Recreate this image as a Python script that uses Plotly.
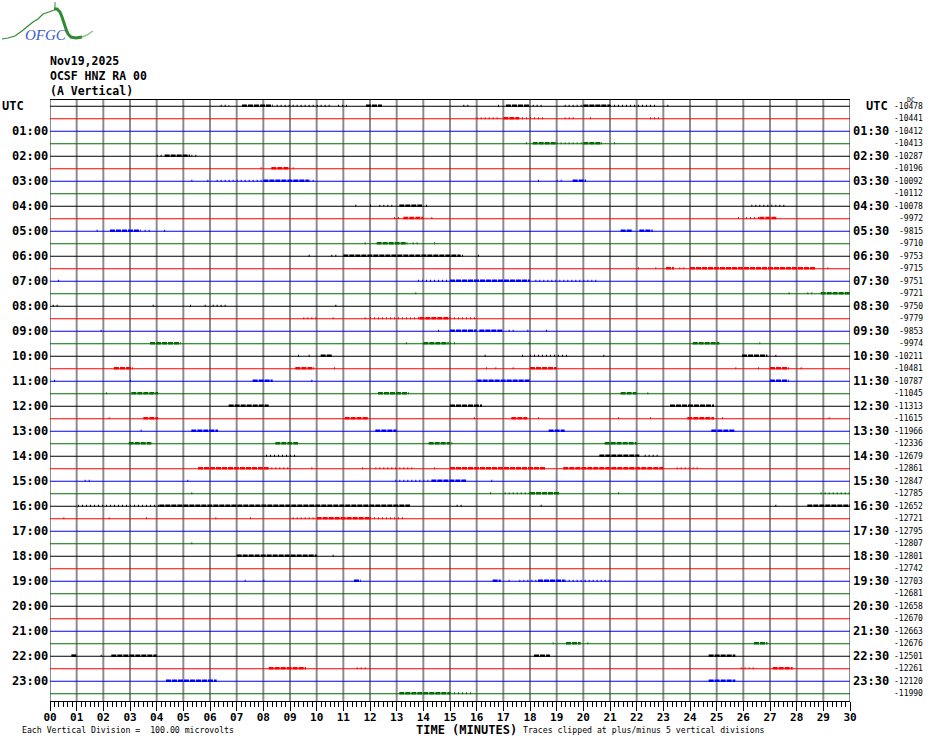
import plotly.graph_objects as go

# ---------------- data ----------------
DATE_LABEL = "Nov19,2025"
STATION_LABEL = "OCSF HNZ RA 00"
COMPONENT_LABEL = "(A Vertical)"

MINUTE_TICKS = list(range(0, 31))
MINUTE_LABELS = [f"{m:02d}" for m in MINUTE_TICKS]

HOUR_LEFT = ["UTC"] + [f"{h:02d}:00" for h in range(1, 24)]
HOUR_RIGHT = ["UTC"] + [f"{h:02d}:30" for h in range(1, 24)]

DC_OFFSETS = [-10478, -10441, -10412, -10413, -10287, -10196, -10092, -10112,
              -10078, -9972, -9815, -9710, -9753, -9715, -9751, -9721,
              -9750, -9779, -9853, -9974, -10211, -10481, -10787, -11045,
              -11313, -11615, -11966, -12336, -12679, -12861, -12847, -12785,
              -12652, -12721, -12795, -12807, -12801, -12742, -12703, -12681,
              -12658, -12670, -12663, -12676, -12501, -12261, -12120, -11990]

TRACE_COLORS = ["#000000", "#ff0000", "#0000ff", "#006e00"]

# bursts of seismic activity: (line index, start minute, end minute, kind d=dense s=sparse)
BURSTS = [
    (0, 6.4, 6.72, "s"), (0, 7.2, 8.35, "d"), (0, 8.5, 10.6, "s"), (0, 10.8, 11.2, "s"),
    (0, 11.85, 12.45, "d"), (0, 15.5, 15.8, "s"), (0, 16.8, 16.85, "s"), (0, 17.1, 18.0, "d"),
    (0, 18.1, 18.5, "s"), (0, 19.3, 20.0, "s"), (0, 20.0, 21.0, "d"), (0, 21.0, 22.8, "s"),
    (0, 23.15, 23.25, "s"),
    (1, 16.0, 16.9, "s"), (1, 17.0, 17.6, "d"), (1, 17.7, 18.5, "s"), (1, 19.3, 19.7, "s"),
    (1, 20.25, 20.35, "s"), (1, 22.5, 22.9, "s"),
    (3, 17.85, 17.95, "s"), (3, 18.1, 19.0, "d"), (3, 19.0, 20.0, "s"), (3, 20.0, 20.7, "d"),
    (3, 21.15, 21.25, "s"),
    (4, 4.0, 4.3, "s"), (4, 4.3, 5.25, "d"), (4, 5.3, 5.5, "s"),
    (5, 7.9, 7.95, "s"), (5, 8.3, 9.0, "d"), (5, 9.1, 9.2, "s"),
    (6, 5.3, 5.4, "s"), (6, 5.9, 6.0, "s"), (6, 6.25, 8.0, "s"), (6, 8.0, 9.7, "d"),
    (6, 9.7, 10.0, "s"), (6, 18.3, 18.35, "s"), (6, 19.0, 19.3, "s"), (6, 19.6, 20.1, "d"),
    (8, 11.45, 11.5, "s"), (8, 12.0, 12.05, "s"), (8, 12.35, 12.9, "s"), (8, 13.1, 13.95, "d"),
    (8, 14.1, 14.15, "s"), (8, 26.3, 27.6, "s"),
    (9, 12.9, 13.1, "s"), (9, 13.25, 14.0, "d"), (9, 14.3, 14.35, "s"), (9, 25.8, 25.85, "s"),
    (9, 26.1, 26.6, "s"), (9, 26.6, 27.25, "d"),
    (10, 1.75, 1.9, "s"), (10, 2.25, 3.4, "d"), (10, 3.55, 3.75, "s"), (10, 4.28, 4.32, "s"),
    (10, 21.4, 21.85, "d"), (10, 22.1, 22.6, "d"),
    (11, 11.8, 11.85, "s"), (11, 12.25, 13.4, "d"), (11, 13.6, 13.9, "s"), (11, 14.4, 14.45, "s"),
    (12, 9.7, 9.8, "s"), (12, 10.55, 10.8, "s"), (12, 11.0, 15.4, "d"), (12, 15.45, 15.5, "s"),
    (12, 16.05, 16.1, "s"),
    (13, 22.05, 22.1, "s"), (13, 22.7, 22.85, "s"), (13, 23.1, 23.4, "d"), (13, 23.6, 23.9, "s"),
    (13, 24.0, 28.7, "d"), (13, 29.15, 29.25, "s"),
    (14, 0.3, 0.45, "s"), (14, 13.8, 15.0, "s"), (14, 15.0, 18.0, "d"), (14, 18.2, 20.5, "s"),
    (15, 13.7, 13.75, "s"), (15, 27.7, 27.75, "s"), (15, 28.4, 28.7, "s"), (15, 28.9, 30.0, "d"),
    (16, 0.1, 0.3, "s"), (16, 3.85, 3.9, "s"), (16, 5.25, 5.3, "s"), (16, 5.8, 5.85, "s"),
    (16, 6.1, 6.6, "s"), (16, 10.7, 10.8, "s"),
    (17, 9.5, 10.0, "s"), (17, 10.6, 10.65, "s"), (17, 11.8, 11.85, "s"), (17, 12.0, 13.85, "s"),
    (17, 13.85, 15.0, "d"), (17, 15.0, 16.0, "s"),
    (18, 1.9, 2.05, "s"), (18, 14.55, 14.65, "s"), (18, 15.0, 16.0, "d"), (18, 16.1, 17.0, "d"),
    (18, 17.2, 17.4, "s"), (18, 17.9, 18.0, "s"), (18, 18.6, 18.65, "s"),
    (19, 3.75, 4.9, "d"), (19, 13.35, 13.4, "s"), (19, 14.0, 14.95, "d"), (19, 15.0, 15.3, "s"),
    (19, 17.95, 18.0, "s"), (19, 24.1, 25.1, "d"), (19, 26.6, 26.65, "s"),
    (20, 9.3, 9.4, "s"), (20, 9.7, 9.8, "s"), (20, 10.15, 10.6, "d"), (20, 16.3, 16.35, "s"),
    (20, 17.7, 17.8, "s"), (20, 18.0, 19.4, "s"), (20, 20.75, 20.8, "s"), (20, 25.95, 26.9, "d"),
    (20, 27.2, 27.25, "s"),
    (21, 2.4, 3.1, "d"), (21, 9.2, 9.9, "d"), (21, 10.65, 10.7, "s"), (21, 16.35, 16.45, "s"),
    (21, 16.7, 16.75, "s"), (21, 17.35, 17.4, "s"), (21, 18.0, 19.0, "d"), (21, 25.7, 25.8, "s"),
    (21, 26.55, 26.65, "s"), (21, 27.0, 27.7, "d"), (21, 28.15, 28.2, "s"),
    (22, 0.15, 0.25, "s"), (22, 3.0, 3.05, "s"), (22, 7.6, 8.35, "d"), (22, 9.8, 9.85, "s"),
    (22, 16.0, 18.0, "d"), (22, 27.0, 27.7, "d"),
    (23, 2.1, 2.15, "s"), (23, 3.05, 4.05, "d"), (23, 12.3, 13.45, "d"), (23, 21.4, 22.0, "d"),
    (23, 22.4, 22.5, "s"),
    (24, 6.7, 8.2, "d"), (24, 15.0, 16.2, "d"), (24, 23.25, 24.9, "d"),
    (25, 2.2, 2.25, "s"), (25, 3.5, 4.05, "d"), (25, 11.05, 11.95, "d"), (25, 15.9, 15.95, "s"),
    (25, 17.3, 17.9, "d"), (25, 18.3, 18.35, "s"), (25, 21.3, 21.35, "s"), (25, 22.5, 22.55, "s"),
    (25, 23.9, 24.9, "d"), (25, 25.2, 25.25, "s"), (25, 29.2, 29.25, "s"),
    (26, 3.4, 3.45, "s"), (26, 5.3, 6.3, "d"), (26, 12.2, 13.0, "d"), (26, 18.7, 19.3, "d"),
    (26, 24.8, 25.7, "d"),
    (27, 2.95, 3.8, "d"), (27, 8.45, 9.3, "d"), (27, 14.2, 15.0, "d"), (27, 15.05, 15.15, "s"),
    (27, 20.8, 22.0, "d"),
    (28, 8.1, 9.3, "s"), (28, 20.6, 22.1, "d"), (28, 22.3, 22.9, "s"),
    (29, 5.55, 8.2, "d"), (29, 8.3, 9.0, "s"), (29, 9.8, 9.9, "s"), (29, 11.7, 11.75, "s"),
    (29, 12.2, 13.6, "s"), (29, 14.4, 14.45, "s"), (29, 15.0, 18.6, "d"), (29, 19.25, 23.0, "d"),
    (29, 23.5, 24.4, "s"),
    (30, 1.3, 1.6, "s"), (30, 5.15, 5.2, "s"), (30, 12.95, 14.3, "s"), (30, 14.3, 15.6, "d"),
    (30, 16.55, 16.6, "s"),
    (31, 5.3, 5.35, "s"), (31, 16.5, 16.55, "s"), (31, 17.05, 18.0, "s"), (31, 18.0, 19.1, "d"),
    (31, 21.3, 21.35, "s"), (31, 28.9, 30.0, "s"),
    (32, 1.05, 4.1, "s"), (32, 4.1, 13.5, "d"), (32, 15.25, 15.45, "s"), (32, 18.4, 18.45, "s"),
    (32, 27.2, 27.25, "s"), (32, 28.4, 30.0, "d"),
    (33, 0.5, 0.55, "s"), (33, 2.2, 2.25, "s"), (33, 3.6, 3.65, "s"), (33, 6.2, 6.25, "s"),
    (33, 7.5, 7.55, "s"), (33, 9.1, 10.0, "s"), (33, 10.0, 12.0, "d"), (33, 12.0, 13.25, "s"),
    (35, 5.3, 5.35, "s"),
    (36, 7.0, 10.0, "d"), (36, 10.6, 10.65, "s"),
    (38, 7.3, 7.35, "s"), (38, 8.0, 8.05, "s"), (38, 11.4, 11.65, "d"), (38, 16.6, 16.9, "d"),
    (38, 17.2, 17.25, "s"), (38, 17.6, 18.3, "s"), (38, 18.3, 19.3, "d"), (38, 19.3, 21.0, "s"),
    (43, 18.85, 18.9, "s"), (43, 19.35, 19.9, "d"), (43, 20.15, 20.2, "s"), (43, 26.4, 26.9, "d"),
    (44, 0.8, 1.0, "d"), (44, 1.9, 1.95, "s"), (44, 2.3, 4.0, "d"), (44, 18.15, 18.75, "d"),
    (44, 24.7, 25.7, "d"),
    (45, 8.2, 9.6, "d"), (45, 11.5, 11.95, "s"), (45, 25.9, 26.4, "s"), (45, 27.1, 27.85, "d"),
    (46, 4.35, 6.25, "d"), (46, 24.7, 25.7, "d"),
    (47, 13.1, 15.0, "d"), (47, 15.0, 15.8, "s"),
]

# ---------------- layout geometry ----------------
W, H = 930, 744
ML, MR, MT, MB = 50, 80, 100, 43
PW, PH = W - ML - MR, H - MT - MB
N_LINES = len(DC_OFFSETS)
Y_TOP = -0.5
Y_BOT = Y_TOP + PH / 12.5


def px_x(p):
    return (p - ML) / PW


def px_y(p):
    return (H - MB - p) / PH


MONO = "DejaVu Sans Mono"
GRID = "#8c8c8c"

fig = go.Figure()

# baseline traces
for k in range(N_LINES):
    fig.add_trace(go.Scatter(
        x=[0, 30], y=[k, k], mode="lines",
        line=dict(color=TRACE_COLORS[k % 4], width=1),
        hoverinfo="skip", showlegend=False))

# bursts grouped by colour and density
for ci, col in enumerate(TRACE_COLORS):
    for kind, width, dash in (("d", 2.5, "5px,1px"), ("s", 2, "1px,3px")):
        xs, ys = [], []
        for (ln, t0, t1, kd) in BURSTS:
            if ln % 4 == ci and kd == kind:
                xs += [t0, t1, None]
                ys += [ln - 0.05, ln - 0.05, None]
        if xs:
            fig.add_trace(go.Scatter(
                x=xs, y=ys, mode="lines",
                line=dict(color=col, width=width, dash=dash),
                hoverinfo="skip", showlegend=False))

annotations = []
# left / right hour labels
for i, (lt, rt) in enumerate(zip(HOUR_LEFT, HOUR_RIGHT)):
    k = 2 * i
    if i == 0:
        annotations.append(dict(x=px_x(0), y=k, xref="paper", yref="y", text=f"<b>{lt}</b>",
                                xanchor="left", yanchor="middle", showarrow=False,
                                font=dict(family=MONO, size=12, color="black")))
        annotations.append(dict(x=px_x(864), y=k, xref="paper", yref="y", text=f"<b>{rt}</b>",
                                xanchor="left", yanchor="middle", showarrow=False,
                                font=dict(family=MONO, size=12, color="black")))
    else:
        annotations.append(dict(x=px_x(50), y=k, xref="paper", yref="y", text=f"<b>{lt}</b>",
                                xanchor="right", yanchor="middle", showarrow=False,
                                font=dict(family=MONO, size=12, color="black")))
        annotations.append(dict(x=px_x(851), y=k, xref="paper", yref="y", text=f"<b>{rt}</b>",
                                xanchor="left", yanchor="middle", showarrow=False,
                                font=dict(family=MONO, size=12, color="black")))

# DC offsets per line on the right
for k, v in enumerate(DC_OFFSETS):
    annotations.append(dict(x=px_x(925), y=k, xref="paper", yref="y", text=str(v),
                            xanchor="right", yanchor="middle", showarrow=False,
                            font=dict(family=MONO, size=8, color="black")))
annotations.append(dict(x=px_x(905), y=px_y(100), xref="paper", yref="paper", text="DC",
                        xanchor="left", yanchor="middle", showarrow=False,
                        font=dict(family=MONO, size=6.5, color="black")))

# title block
for txt, yp in ((DATE_LABEL, 61), (STATION_LABEL, 76), (COMPONENT_LABEL, 91)):
    annotations.append(dict(x=px_x(48), y=px_y(yp), xref="paper", yref="paper", text=f"<b>{txt}</b>",
                            xanchor="left", yanchor="middle", showarrow=False,
                            font=dict(family=MONO, size=11.5, color="black")))

# bottom texts
annotations.append(dict(x=px_x(466), y=px_y(729.5), xref="paper", yref="paper", text="<b>TIME (MINUTES)</b>",
                        xanchor="center", yanchor="middle", showarrow=False,
                        font=dict(family=MONO, size=12, color="black")))
annotations.append(dict(x=px_x(20), y=px_y(730), xref="paper", yref="paper",
                        text="Each Vertical Division =  100.00 microvolts",
                        xanchor="left", yanchor="middle", showarrow=False,
                        font=dict(family=MONO, size=8.2, color="black")))
annotations.append(dict(x=px_x(521), y=px_y(730), xref="paper", yref="paper",
                        text="Traces clipped at plus/minus 5 vertical divisions",
                        xanchor="left", yanchor="middle", showarrow=False,
                        font=dict(family=MONO, size=8.2, color="black")))

# logo text
annotations.append(dict(x=px_x(46), y=px_y(35), xref="paper", yref="paper", text="<i>OFGC</i>",
                        xanchor="center", yanchor="middle", showarrow=False,
                        font=dict(family="Liberation Serif", size=15, color="#3a5ccc")))


def path_from(points):
    return "M " + " L ".join(f"{px_x(a):.5f},{px_y(b):.5f}" for a, b in points)


shapes = []
# minute grid lines (drawn beneath the traces)
for m in MINUTE_TICKS:
    shapes.append(dict(type="line", xref="x", yref="paper", x0=m, x1=m, y0=0, y1=1,
                       layer="below", line=dict(color=GRID, width=2)))

shapes += [
    dict(type="path", xref="paper", yref="paper",
         path=path_from([(2, 39), (8, 38), (15, 36), (22, 31), (28, 26), (33, 22), (38, 19), (43, 14), (49, 12), (54, 10)]),
         line=dict(color="#2e8b2e", width=1.2)),
    dict(type="path", xref="paper", yref="paper",
         path=path_from([(54, 9), (57, 9), (60, 12), (62, 17), (64, 23), (66, 29), (68, 34), (71, 37), (76, 38), (82, 37)]),
         line=dict(color="#2e8b2e", width=3)),
    dict(type="path", xref="paper", yref="paper",
         path=path_from([(82, 37), (87, 35), (93, 31)]),
         line=dict(color="#8fc88f", width=1.5)),
    dict(type="path", xref="paper", yref="paper",
         path=path_from([(55, 2), (55, 10)]),
         line=dict(color="#2e8b2e", width=1)),
]

fig.update_layout(
    template="none",
    width=W, height=H,
    margin=dict(l=ML, r=MR, t=MT, b=MB, pad=0),
    paper_bgcolor="white", plot_bgcolor="white",
    showlegend=False,
    annotations=annotations,
    shapes=shapes,
    xaxis=dict(
        range=[0, 30], tickvals=MINUTE_TICKS, ticktext=[f"<b>{t}</b>" for t in MINUTE_LABELS],
        showgrid=False,
        zeroline=False, showline=True, linecolor="black", linewidth=1, mirror=True,
        ticks="outside", ticklen=9, tickwidth=1, tickcolor="black",
        ticklabelstandoff=-3,
        tickfont=dict(family=MONO, size=11, color="black"),
        minor=dict(dtick=1 / 6, tick0=0, ticks="outside", ticklen=5, tickwidth=1,
                   tickcolor="black", showgrid=False),
        fixedrange=True,
    ),
    yaxis=dict(
        range=[Y_BOT, Y_TOP], showticklabels=False, ticks="",
        showgrid=False, zeroline=False,
        showline=False,
        fixedrange=True,
    ),
)

fig.write_html("out.html", config={"displayModeBar": False},
               post_script="document.body.style.margin='0';document.body.style.overflow='hidden';")
